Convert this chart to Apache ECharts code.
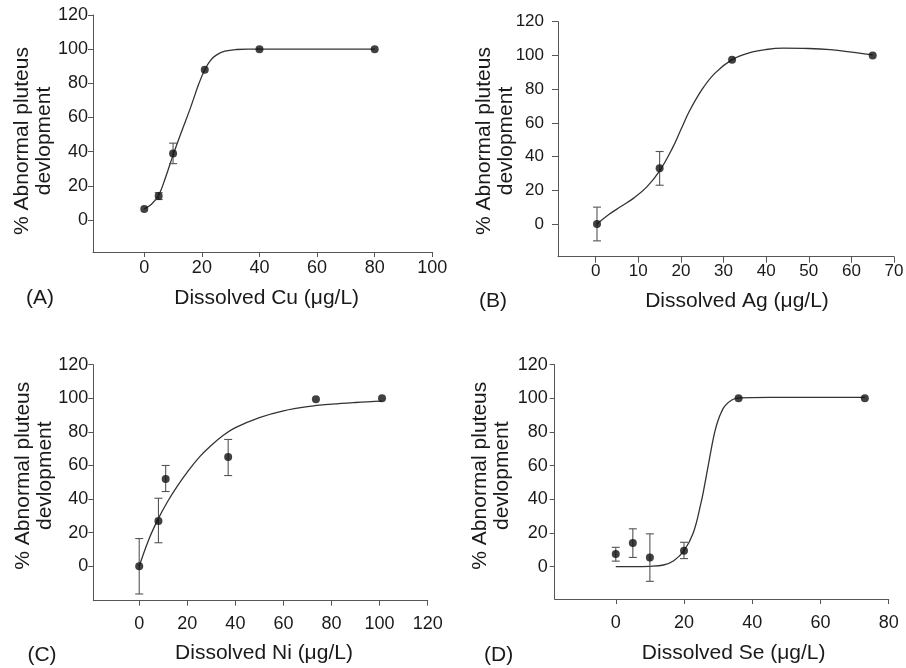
<!DOCTYPE html>
<html>
<head>
<meta charset="utf-8">
<script src="https://cdn.jsdelivr.net/npm/echarts@6/dist/echarts.min.js"></script>
<style>
html,body{margin:0;padding:0;background:#fff;}
#c{width:906px;height:668px;}
</style>
</head>
<body>
<div id="c"></div>
<script>
// ---- Panel A: Cu ----
const cuX = [0, 5, 10, 21, 40, 80];
const cuY = [6.5, 14, 39, 88, 100, 100];
const cuErrX = [5, 10];
const cuErrLo = [12, 33];
const cuErrHi = [16, 45];
const cuFitX = [0, 2.5, 5, 7.5, 10, 13, 16, 19, 21, 23, 25, 28, 32, 36, 40, 60, 80];
const cuFitY = [6.5, 9.2, 14.5, 25.5, 38, 52, 65.5, 80, 88, 93.5, 96.5, 98.8, 99.8, 100, 100, 100, 100];
const cuTicks = [0, 20, 40, 60, 80, 100];

// ---- Panel B: Ag ----
const agX = [0.3, 15, 32, 65];
const agY = [0, 33, 97.5, 100];
const agErrX = [0.3, 15];
const agErrLo = [-10, 23];
const agErrHi = [10, 43];
const agFitX = [0.3, 3, 6, 9, 12, 15, 18, 20, 22, 25, 28, 32, 36, 40, 44, 50, 55, 60, 65];
const agFitY = [0, 5.5, 10.5, 15.5, 22, 31.5, 45, 56, 67, 80, 89.5, 97.5, 101.5, 103.5, 104.3, 104.1, 103.4, 102, 100.3];
const agTicks = [0, 10, 20, 30, 40, 50, 60, 70];

// ---- Panel C: Ni ----
const niX = [0, 8, 11, 37, 73.5, 101];
const niY = [0, 27, 52, 65, 99.5, 100];
const niErrX = [0, 8, 11, 37];
const niErrLo = [-16.5, 14, 44.5, 54];
const niErrHi = [16.5, 40.5, 60, 75.5];
const niFitX = [0, 4, 8, 12, 16, 20, 25, 30, 35, 40, 50, 60, 70, 80, 90, 101];
const niFitY = [0, 16, 28.5, 39, 48, 56, 65, 72, 78, 82.5, 88.5, 92.5, 95, 96.5, 97.5, 98.3];
const niTicks = [0, 20, 40, 60, 80, 100, 120];

// ---- Panel D: Se ----
const seX = [0, 5, 10, 20, 36, 73];
const seY = [7.5, 14, 5.5, 9.5, 100, 100];
const seErrX = [0, 5, 10, 20];
const seErrLo = [3.3, 5.5, -8.7, 4.8];
const seErrHi = [11.5, 22.5, 19.5, 14.5];
const seFitX = [0, 5, 10, 14, 17, 20, 22.7, 25, 26, 27, 28, 29, 30, 31, 32, 34, 36, 45, 73];
const seFitY = [0, 0, 0.2, 1, 3.5, 9.5, 20, 38, 48, 59, 70, 80, 87, 92, 95.5, 99, 100.3, 100.6, 100.6];
const seTicks = [0, 20, 40, 60, 80];

const yTicks = [0, 20, 40, 60, 80, 100, 120];
const yName = '% Abnormal pluteus\ndevlopment';
const xNames = ['Dissolved Cu (\u03bcg/L)', 'Dissolved Ag (\u03bcg/L)', 'Dissolved Ni (\u03bcg/L)', 'Dissolved Se (\u03bcg/L)'];
const panelLabels = ['(A)', '(B)', '(C)', '(D)'];

const FONT = '"Liberation Sans", Arial, Helvetica, sans-serif';
const TXT = '#1a1a1a';
const AX = '#555';

const panels = [
  {x: cuX, y: cuY, ex: cuErrX, lo: cuErrLo, hi: cuErrHi, fx: cuFitX, fy: cuFitY, ticks: cuTicks,
   grid: {left: 93, top: 15, width: 339.3, height: 237}, xmin: -17.8, xmax: 100, ymin: -18.7,
   yMargin: 5, xMargin: 7, tickLen: 5, fs: 18,
   yn: [33.5, 141], xn: [266.7, 298], lab: [40, 298]},
  {x: agX, y: agY, ex: agErrX, lo: agErrLo, hi: agErrHi, fx: agFitX, fy: agFitY, ticks: agTicks,
   grid: {left: 558, top: 21.7, width: 336, height: 235}, xmin: -8.85, xmax: 70, ymin: -19.4,
   yMargin: 14, xMargin: 6, tickLen: 6, fs: 17,
   yn: [495.5, 141], xn: [737, 301.7], lab: [493, 301.7]},
  {x: niX, y: niY, ex: niErrX, lo: niErrLo, hi: niErrHi, fx: niFitX, fy: niFitY, ticks: niTicks,
   grid: {left: 93.3, top: 364.7, width: 334.4, height: 236}, xmin: -19.1, xmax: 120, ymin: -20.5,
   yMargin: 5, xMargin: 14, tickLen: 5, fs: 18,
   yn: [34.5, 475.7], xn: [264, 653.3], lab: [42, 655.7]},
  {x: seX, y: seY, ex: seErrX, lo: seErrLo, hi: seErrHi, fx: seFitX, fy: seFitY, ticks: seTicks,
   grid: {left: 554.7, top: 364.7, width: 334, height: 234.3}, xmin: -17.9, xmax: 80, ymin: -19.2,
   yMargin: 7, xMargin: 15, tickLen: 5, fs: 18,
   yn: [491.3, 475.7], xn: [733.7, 653.3], lab: [498.7, 655]}
];

const grid = [], xAxis = [], yAxis = [], series = [], graphic = [];

panels.forEach((p, i) => {
  grid.push(Object.assign({outerBoundsMode: 'none', containLabel: false}, p.grid));
  xAxis.push({
    type: 'value', gridIndex: i, min: p.xmin, max: p.xmax,
    axisLine: {onZero: false, lineStyle: {color: AX, width: 1}},
    axisTick: {show: true, inside: false, length: p.tickLen, customValues: p.ticks, lineStyle: {color: AX}},
    axisLabel: {customValues: p.ticks, margin: p.xMargin, color: TXT, fontSize: p.fs, fontFamily: FONT},
    splitLine: {show: false}
  });
  yAxis.push({
    type: 'value', gridIndex: i, min: p.ymin, max: 120,
    axisLine: {show: true, onZero: false, lineStyle: {color: AX, width: 1}},
    axisTick: {show: true, inside: false, length: p.tickLen, customValues: yTicks, lineStyle: {color: AX}},
    axisLabel: {customValues: yTicks, margin: p.yMargin, color: TXT, fontSize: p.fs, fontFamily: FONT},
    splitLine: {show: false}
  });
  series.push({
    type: 'line', xAxisIndex: i, yAxisIndex: i,
    data: p.fx.map((v, k) => [v, p.fy[k]]),
    smooth: 0.4, showSymbol: false, silent: true,
    lineStyle: {color: '#333', width: 1.3}, z: 2
  });
  series.push({
    type: 'custom', xAxisIndex: i, yAxisIndex: i,
    data: p.ex.map((v, k) => [v, p.lo[k], p.hi[k]]),
    renderItem: function (params, api) {
      const top = api.coord([api.value(0), api.value(2)]);
      const bot = api.coord([api.value(0), api.value(1)]);
      const h = 4;
      const st = {stroke: '#555', lineWidth: 1.1};
      return {
        type: 'group',
        children: [
          {type: 'line', shape: {x1: top[0], y1: top[1], x2: bot[0], y2: bot[1]}, style: st},
          {type: 'line', shape: {x1: top[0] - h, y1: top[1], x2: top[0] + h, y2: top[1]}, style: st},
          {type: 'line', shape: {x1: bot[0] - h, y1: bot[1], x2: bot[0] + h, y2: bot[1]}, style: st}
        ]
      };
    },
    z: 3, silent: true
  });
  series.push({
    type: 'scatter', xAxisIndex: i, yAxisIndex: i,
    data: p.x.map((v, k) => [v, p.y[k]]),
    symbol: 'circle', symbolSize: 8,
    itemStyle: {color: '#111'}, z: 4, silent: true
  });
  graphic.push({
    type: 'text', x: p.yn[0], y: p.yn[1], rotation: Math.PI / 2,
    style: {text: yName, fontSize: 21, lineHeight: 22, fontFamily: FONT, fill: TXT,
            textAlign: 'center', textVerticalAlign: 'middle', align: 'center', verticalAlign: 'middle'}
  });
  graphic.push({
    type: 'text', x: p.xn[0], y: p.xn[1],
    style: {text: xNames[i], fontSize: 21, fontFamily: FONT, fill: TXT,
            textAlign: 'center', textVerticalAlign: 'middle', align: 'center', verticalAlign: 'middle'}
  });
  graphic.push({
    type: 'text', x: p.lab[0], y: p.lab[1],
    style: {text: panelLabels[i], fontSize: 21, fontFamily: FONT, fill: TXT,
            textAlign: 'center', textVerticalAlign: 'middle', align: 'center', verticalAlign: 'middle'}
  });
});

const chart = echarts.init(document.getElementById('c'), null, {renderer: 'canvas'});
chart.setOption({
  backgroundColor: '#fff',
  animation: false,
  grid, xAxis, yAxis, series, graphic
});
</script>
</body>
</html>
